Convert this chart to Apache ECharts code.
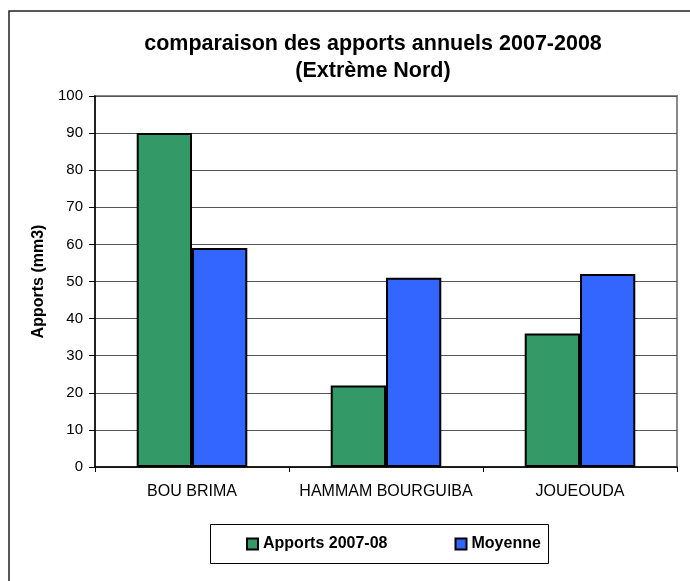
<!DOCTYPE html>
<html>
<head>
<meta charset="utf-8">
<script src="https://cdn.jsdelivr.net/npm/echarts@6/dist/echarts.min.js"></script>
<style>
html,body{margin:0;padding:0;background:#fff;}
#c{width:690px;height:581px;}
</style>
</head>
<body>
<div id="c"></div>
<script>
var categories = ['BOU BRIMA', 'HAMMAM BOURGUIBA', 'JOUEOUDA'];
var apports = [90, 22, 36];
var moyenne = [59, 51, 52];
var yTicks = { min: 0, max: 100, interval: 10 };
var titleLines = ['comparaison des apports annuels 2007-2008', '(Extrème Nord)'];
var seriesNames = ['Apports 2007-08', 'Moyenne'];

var FONT = 'Arial, "Liberation Sans", sans-serif';
var chart = echarts.init(document.getElementById('c'), null, { renderer: 'canvas' });
chart.setOption({
  backgroundColor: '#fff',
  animation: false,
  graphic: [
    { type: 'rect', z: -1, shape: { x: 9, y: 11, width: 900, height: 900 },
      style: { fill: '#fff', stroke: '#222', lineWidth: 1.5 } },
    { type: 'text', style: { text: titleLines[0], x: 373, y: 44, textAlign: 'center', textVerticalAlign: 'middle',
      font: 'bold 21.5px ' + FONT, fill: '#000' } },
    { type: 'text', style: { text: titleLines[1], x: 373, y: 71, textAlign: 'center', textVerticalAlign: 'middle',
      font: 'bold 21.5px ' + FONT, fill: '#000' } },
    { type: 'rect', shape: { x: 210.5, y: 524.5, width: 338, height: 39 },
      style: { fill: 'none', stroke: '#000', lineWidth: 1 } }
  ],
  legend: {
    left: 246, top: 536, padding: 0,
    itemWidth: 11, itemHeight: 11, itemGap: 67,
    icon: 'rect',
    textStyle: { fontSize: 16, fontWeight: 'bold', fontFamily: FONT, color: '#000' },
    data: seriesNames
  },
  grid: { left: 95, right: 13, top: 96, bottom: 114, show: true, borderColor: '#888', borderWidth: 2, backgroundColor: '#fff' },
  xAxis: {
    type: 'category', data: categories,
    axisLine: { lineStyle: { color: '#000', width: 1.5 } },
    axisTick: { show: true, length: 5, interval: 0, lineStyle: { color: '#000' } },
    axisLabel: { interval: 0, margin: 17, fontSize: 16, fontFamily: FONT, color: '#000' }
  },
  yAxis: {
    type: 'value', min: yTicks.min, max: yTicks.max, interval: yTicks.interval,
    name: 'Apports (mm3)', nameLocation: 'middle', nameGap: 40, nameRotate: 90,
    nameTextStyle: { fontSize: 16, fontWeight: 'bold', fontFamily: FONT, color: '#000' },
    axisLine: { show: true, lineStyle: { color: '#000', width: 1.5 } },
    axisTick: { show: true, length: 6, lineStyle: { color: '#000' } },
    axisLabel: { margin: 12, fontSize: 15, fontFamily: FONT, color: '#000' },
    splitLine: { show: true, lineStyle: { color: '#555', width: 1 } }
  },
  series: [
    { name: seriesNames[0], type: 'bar', data: apports, barGap: '0%', barCategoryGap: '43%',
      itemStyle: { color: '#339966', borderColor: '#000', borderWidth: 2 } },
    { name: seriesNames[1], type: 'bar', data: moyenne, barGap: '0%', barCategoryGap: '43%',
      itemStyle: { color: '#3366FF', borderColor: '#000', borderWidth: 2 } }
  ]
});
</script>
</body>
</html>
